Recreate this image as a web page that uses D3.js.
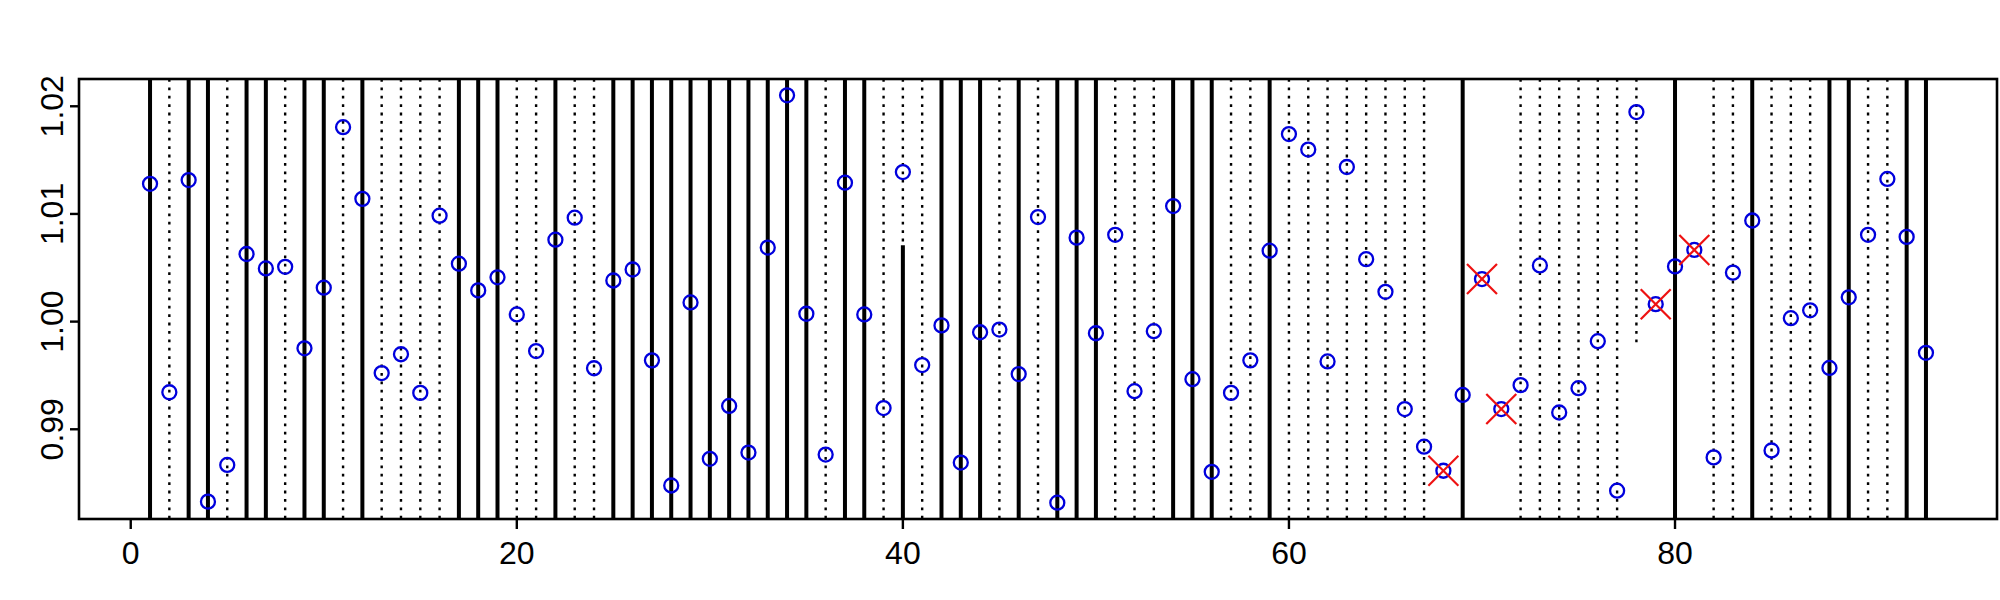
<!DOCTYPE html>
<html>
<head>
<meta charset="utf-8">
<script src="https://cdn.jsdelivr.net/npm/d3@7/dist/d3.min.js"></script>
<style>
  html, body { margin: 0; padding: 0; background: #ffffff; }
  svg { display: block; }
  text { font-family: "Liberation Sans", Arial, sans-serif; fill: #000; }
</style>
</head>
<body>
<svg id="chart" width="2000" height="600"></svg>
<script>
// ---- data ----
const values = [
  1.0128, 0.99344, 1.01315, 0.98328, 0.98669, 1.00628, 1.00494, 1.00509, 0.99752, 1.00315,
  1.01806, 1.0114, 0.99522, 0.99697, 0.99338, 1.00984, 1.00538, 1.0029, 1.00411, 1.00067,
  0.99726, 1.00761, 1.00965, 0.99567, 1.00382, 1.00484, 0.9964, 0.98478, 1.00178, 0.98726,
  0.99217, 0.98784, 1.00688, 1.02102, 1.00073, 0.98765, 1.0129, 1.00067, 0.99197, 1.01389,
  0.99596, 0.99965, 0.98691, 0.99901, 0.99926, 0.99513, 1.00971, 0.98318, 1.0078, 0.99892,
  1.00806, 0.99354, 0.99911, 1.01073, 0.99465, 0.98605, 0.99338, 0.9964, 1.00659, 1.01742,
  1.01598, 0.9963, 1.01436, 1.0058, 1.00277, 0.99188, 0.98838, 0.98615, 0.99319, 1.00395,
  0.99188, 0.9941, 1.00522, 0.99156, 0.99382, 0.99818, 0.9843, 1.01946, 1.00162, 1.00513,
  1.00666, 0.98739, 1.00455, 1.00939, 0.98803, 1.00032, 1.00105, 0.9957, 1.00226, 1.00806,
  1.01325, 1.00787, 0.9971
];
const index = values.map((v, i) => i + 1);

const solidLines = [1,3,4,6,7,9,10,12,17,18,19,22,25,26,27,28,29,30,31,32,33,34,35,37,38,
  42,43,44,46,48,49,50,54,55,56,59,69,80,84,88,89,92,93];
const dottedLines = [2,5,8,11,13,14,15,16,20,21,23,24,36,39,40,41,45,47,51,52,53,57,58,60,
  61,62,63,64,65,66,67,72,73,74,75,76,77,82,83,85,86,87,90,91];
// partial segments: [x, yTop or null (=top of plot), yBottom or null (=bottom of plot)]
const solidPartial = [[40, 1.0071, null]];
const dottedPartial = [[78, null, 0.9978]];
const flagged = [68, 70, 71, 79, 81];

const xTicks = [0, 20, 40, 60, 80];
const yTicks = [0.99, 1.00, 1.01, 1.02];

// ---- layout ----
const M = { left: 79, right: 1997, top: 79, bottom: 519 };
const svg = d3.select("#chart");

function padExtent(ext) {
  const d = (ext[1] - ext[0]) * 0.04;
  return [ext[0] - d, ext[1] + d];
}
const x = d3.scaleLinear().domain(padExtent(d3.extent(index))).range([M.left, M.right]);
const y = d3.scaleLinear().domain(padExtent(d3.extent(values))).range([M.bottom, M.top]);
const [yMin, yMax] = y.domain();

const SOLID_W = 4, DOT_W = 2.4, DASH = "2.8,5.6";
const gLines = svg.append("g");

gLines.selectAll("line.solid").data(solidLines).join("line")
  .attr("class", "solid")
  .attr("x1", d => x(d)).attr("x2", d => x(d))
  .attr("y1", y(yMin)).attr("y2", y(yMax))
  .attr("stroke", "#000").attr("stroke-width", SOLID_W);

gLines.selectAll("line.dotted").data(dottedLines).join("line")
  .attr("class", "dotted")
  .attr("x1", d => x(d)).attr("x2", d => x(d))
  .attr("y1", y(yMax)).attr("y2", y(yMin))
  .attr("stroke", "#000").attr("stroke-width", DOT_W)
  .attr("stroke-dasharray", DASH);

gLines.selectAll("line.spart").data(solidPartial).join("line")
  .attr("class", "spart")
  .attr("x1", d => x(d[0])).attr("x2", d => x(d[0]))
  .attr("y1", d => y(d[2] == null ? yMin : d[2]))
  .attr("y2", d => y(d[1] == null ? yMax : d[1]))
  .attr("stroke", "#000").attr("stroke-width", SOLID_W);

gLines.selectAll("line.dpart").data(dottedPartial).join("line")
  .attr("class", "dpart")
  .attr("x1", d => x(d[0])).attr("x2", d => x(d[0]))
  .attr("y1", d => y(d[1] == null ? yMax : d[1]))
  .attr("y2", d => y(d[2] == null ? yMin : d[2]))
  .attr("stroke", "#000").attr("stroke-width", DOT_W)
  .attr("stroke-dasharray", DASH);

// points
svg.append("g").selectAll("circle").data(values).join("circle")
  .attr("cx", (d, i) => x(index[i]))
  .attr("cy", d => y(d))
  .attr("r", 7)
  .attr("fill", "none")
  .attr("stroke", "#0000dd")
  .attr("stroke-width", 2.3);

// red crosses
const cs = 15;
const gX = svg.append("g");
flagged.forEach(k => {
  const cx = x(k), cy = y(values[k - 1]);
  gX.append("line").attr("x1", cx - cs).attr("y1", cy - cs).attr("x2", cx + cs).attr("y2", cy + cs)
    .attr("stroke", "#ee1111").attr("stroke-width", 2.2);
  gX.append("line").attr("x1", cx - cs).attr("y1", cy + cs).attr("x2", cx + cs).attr("y2", cy - cs)
    .attr("stroke", "#ee1111").attr("stroke-width", 2.2);
});

// frame
svg.append("rect")
  .attr("x", M.left).attr("y", M.top)
  .attr("width", M.right - M.left).attr("height", M.bottom - M.top)
  .attr("fill", "none").attr("stroke", "#000").attr("stroke-width", 2.6);

// x axis ticks & labels
const gx = svg.append("g");
gx.selectAll("line").data(xTicks).join("line")
  .attr("x1", d => x(d)).attr("x2", d => x(d))
  .attr("y1", M.bottom).attr("y2", M.bottom + 10)
  .attr("stroke", "#000").attr("stroke-width", 2.4);
gx.selectAll("text").data(xTicks).join("text")
  .attr("x", d => x(d)).attr("y", 564)
  .attr("text-anchor", "middle")
  .attr("font-size", 32)
  .text(d => d);

// y axis ticks & labels
const gy = svg.append("g");
gy.selectAll("line").data(yTicks).join("line")
  .attr("x1", M.left - 9).attr("x2", M.left)
  .attr("y1", d => y(d)).attr("y2", d => y(d))
  .attr("stroke", "#000").attr("stroke-width", 2.4);
gy.selectAll("text").data(yTicks).join("text")
  .attr("transform", d => `translate(63,${y(d)}) rotate(-90)`)
  .attr("text-anchor", "middle")
  .attr("font-size", 32)
  .text(d => d3.format(".2f")(d));
</script>
</body>
</html>
